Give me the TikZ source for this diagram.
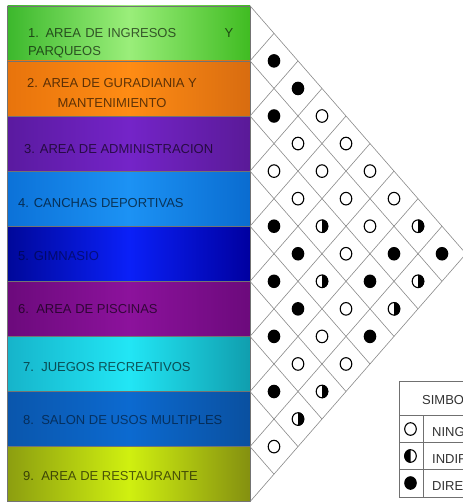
\documentclass[tikz,border=0pt]{standalone}
\usepackage{fontspec}
\setmainfont{Liberation Sans}
\definecolor{gA}{HTML}{3CB82C}\definecolor{gB}{HTML}{9AEE7A}\definecolor{gC}{HTML}{40BC22}
\definecolor{oA}{HTML}{E8740C}\definecolor{oB}{HTML}{FF8C14}\definecolor{oC}{HTML}{D86C10}
\definecolor{pA}{HTML}{5A1AA0}\definecolor{pB}{HTML}{7424C8}\definecolor{pC}{HTML}{5A1A98}
\definecolor{bA}{HTML}{0C72D8}\definecolor{bB}{HTML}{1C92F4}\definecolor{bC}{HTML}{0A6CD0}
\definecolor{dA}{HTML}{00089A}\definecolor{dB}{HTML}{0A20F8}\definecolor{dC}{HTML}{0000A0}
\definecolor{mA}{HTML}{6C0A7C}\definecolor{mB}{HTML}{8C129C}\definecolor{mC}{HTML}{6C0A7C}
\definecolor{cA}{HTML}{16B4CA}\definecolor{cB}{HTML}{22E6F5}\definecolor{cC}{HTML}{109EAE}
\definecolor{sA}{HTML}{0A56AC}\definecolor{sB}{HTML}{0C6AD0}\definecolor{sC}{HTML}{0A50A0}
\definecolor{yA}{HTML}{8C9E10}\definecolor{yB}{HTML}{D0F010}\definecolor{yC}{HTML}{849010}
\definecolor{gridgray}{HTML}{8A8A8A}
\definecolor{leggray}{HTML}{707070}
\begin{document}
\begin{tikzpicture}[x=1pt,y=-1pt,
  barbox/.style={draw=black!55,line width=0.6pt,minimum width=242.5pt,minimum height=55.1pt,inner sep=0pt,outer sep=0pt},
  bartext/.style={font=\fontsize{13}{18}\selectfont,text=black,text opacity=0.62,inner sep=0pt},
  gridline/.style={draw=gridgray,line width=0.6pt},
  legline/.style={draw=leggray,line width=0.6pt},
  legtext/.style={font=\fontsize{13}{16}\selectfont,text=black!80,inner sep=0pt,anchor=base west},
  symline/.style={draw=black,line width=1.1pt},
  symfill/.style={fill=black}]
\clip (0,0) rectangle (463,504);
\fill[white] (0,0) rectangle (463,504);
\def\xl{7.5}\def\xr{250}\def\yo{5.8}\def\H{55.1}\def\hx{24}
% bars
\foreach \i/\ca/\cb/\cc in {1/gA/gB/gC,2/oA/oB/oC,3/pA/pB/pC,4/bA/bB/bC,5/dA/dB/dC,6/mA/mB/mC,7/cA/cB/cC,8/sA/sB/sC,9/yA/yB/yC}
  \node[barbox,left color=\ca,right color=\cc,middle color=\cb] (bar\i) at ({(\xl+\xr)/2},{\yo+(\i-0.5)*\H}) {};
% bar texts
\node[bartext,anchor=north west,text width=205pt,align=left] (t1) at (28,28) {1. AREA DE INGRESOS\hfill Y\\PARQUEOS};
\node[bartext,anchor=north,align=center,font=\fontsize{13}{20}\selectfont] (t2) at (112,78) {2. AREA DE GURADIANIA Y\\MANTENIMIENTO};
\node[bartext,anchor=base west] (t3) at (24,153) {3. AREA DE ADMINISTRACION};
\node[bartext,anchor=base west] (t4) at (18,207) {4. CANCHAS DEPORTIVAS};
\node[bartext,anchor=base west,text opacity=0.42] (t5) at (18,260) {5. GIMNASIO};
\node[bartext,anchor=base west] (t6) at (18,313) {6.\ \ AREA DE PISCINAS};
\node[bartext,anchor=base west] (t7) at (23,371) {7.\ \ JUEGOS RECREATIVOS};
\node[bartext,anchor=base west,text opacity=0.5] (t8) at (23,424) {8.\ \ SALON DE USOS MULTIPLES};
\node[bartext,anchor=base west] (t9) at (23,480) {9.\ \ AREA DE RESTAURANTE};
% grid
\foreach \k in {0,...,8}
  \draw[gridline] (\xr,{\yo+\k*\H}) -- ({\xr+(9-\k)*\hx},{\yo+\k*\H+(9-\k)*\H/2});
\foreach \k in {1,...,9}
  \draw[gridline] (\xr,{\yo+\k*\H}) -- ({\xr+\k*\hx},{\yo+\k*\H/2});
% symbols
\def\rx{6.3}\def\ry{6.8}
\foreach \i/\j in {1/2,1/3,2/3,4/5,4/6,2/8,1/9,5/6,3/8,5/7,6/7,4/9,7/8}
  \fill[symfill] ({\xr+(\j-\i)*\hx},{\yo+(\i+\j-1)*\H/2}) ellipse[x radius=\rx,y radius=\ry];
\foreach \i/\j in {1/4,2/4,1/5,3/4,2/5,1/6,3/5,2/6,1/7,2/7,3/7,4/8,5/8,6/8,5/9,8/9}
  \draw[symline] ({\xr+(\j-\i)*\hx},{\yo+(\i+\j-1)*\H/2}) ellipse[x radius=\rx-0.5,y radius=\ry-0.5];
\foreach \i/\j in {3/6,1/8,4/7,2/9,3/9,6/9,7/9}{
  \fill[symfill] ({\xr+(\j-\i)*\hx},{\yo+(\i+\j-1)*\H/2+\ry}) arc[start angle=90,end angle=-90,x radius=\rx,y radius=\ry] -- cycle;
  \draw[symline] ({\xr+(\j-\i)*\hx},{\yo+(\i+\j-1)*\H/2}) ellipse[x radius=\rx-0.5,y radius=\ry-0.5];
}
% legend
\draw[legline] (399,381) rectangle (519,497);
\draw[legline] (399,415) -- (519,415);
\draw[legline] (399,442) -- (519,442);
\draw[legline] (399,469) -- (519,469);
\draw[legline] (423,415) -- (423,497);
\node[legtext] (lh) at (422,404) {SIMBOLOGIA};
\node[legtext] (l1) at (432,436) {NINGUNA};
\node[legtext] (l2) at (432,463) {INDIRECTA};
\node[legtext] (l3) at (432,490) {DIRECTA};
\draw[symline] (410.5,429) ellipse[x radius=5.8,y radius=6.3];
\fill[symfill] (410.5,{456+6.8}) arc[start angle=90,end angle=270,x radius=6.3,y radius=6.8] -- cycle;
\draw[symline] (410.5,456) ellipse[x radius=5.8,y radius=6.3];
\fill[symfill] (410.5,483) ellipse[x radius=6.3,y radius=6.8];
\end{tikzpicture}
\end{document}
